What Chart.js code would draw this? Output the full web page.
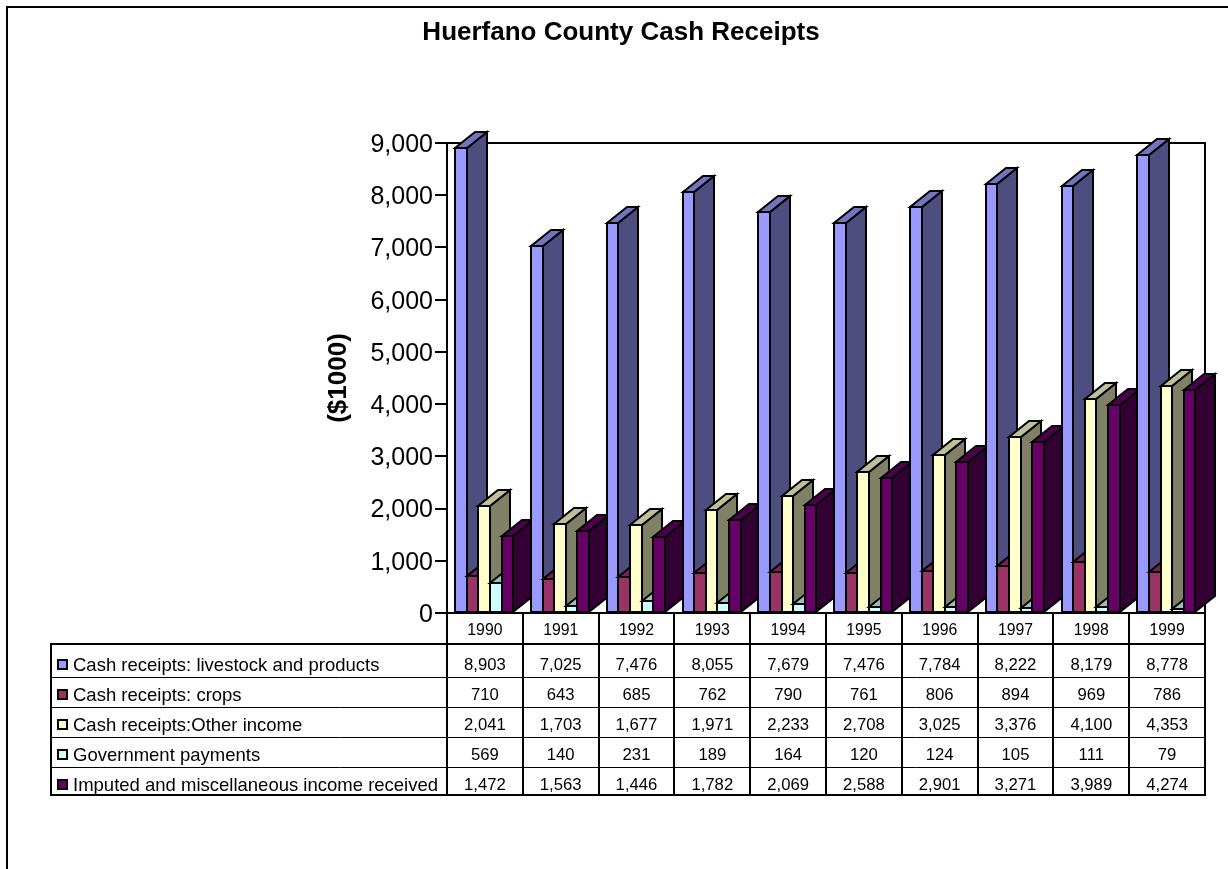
<!DOCTYPE html>
<html>
<head>
<meta charset="utf-8">
<title>Huerfano County Cash Receipts</title>
<script src="https://cdn.jsdelivr.net/npm/chart.js@4"></script>
<style>
    html, body { margin: 0; padding: 0; background: #fff; }
    #wrap { position: relative; width: 1228px; height: 869px; overflow: hidden; }
    #chart { display: block; }
</style>
</head>
<body>
<div id="wrap"><canvas id="chart" width="1228" height="869"></canvas></div>
<script>
const years = ['1990', '1991', '1992', '1993', '1994', '1995', '1996', '1997', '1998', '1999'];

const seriesNames = [
    'Cash receipts: livestock and products',
    'Cash receipts: crops',
    'Cash receipts:Other income',
    'Government payments',
    'Imputed and miscellaneous income received'
];

const livestock = [8903, 7025, 7476, 8055, 7679, 7476, 7784, 8222, 8179, 8778];
const crops = [710, 643, 685, 762, 790, 761, 806, 894, 969, 786];
const otherIncome = [2041, 1703, 1677, 1971, 2233, 2708, 3025, 3376, 4100, 4353];
const government = [569, 140, 231, 189, 164, 120, 124, 105, 111, 79];
const imputed = [1472, 1563, 1446, 1782, 2069, 2588, 2901, 3271, 3989, 4274];

const seriesValues = [livestock, crops, otherIncome, government, imputed];

// front, top and side face colours for each series
const frontColors = ['#9999ff', '#993366', '#ffffcc', '#ccffff', '#660066'];
const topColors = ['#7373bf', '#73264d', '#bfbf99', '#99bfbf', '#4d004d'];
const sideColors = ['#4d4d80', '#4d1a33', '#808066', '#668080', '#330033'];

const FONT = '"Liberation Sans", Arial, sans-serif';
const DEPTH_X = 20;
const DEPTH_Y = 16;

function fmt(v) {
    return v.toLocaleString('en-US');
}

function poly(ctx, pts, fill) {
    ctx.beginPath();
    pts.forEach((p, i) => (i === 0 ? ctx.moveTo(p[0], p[1]) : ctx.lineTo(p[0], p[1])));
    ctx.closePath();
    ctx.fillStyle = fill;
    ctx.fill();
    ctx.stroke();
}

// Draws the bars with depth. Left to right so nearer faces cover the side of the previous bar.
const bars3d = {
    id: 'bars3d',
    beforeDatasetsDraw(chart) {
        const { ctx, chartArea } = chart;
        ctx.save();
        ctx.strokeStyle = '#000';
        ctx.lineWidth = 2;
        ctx.lineJoin = 'miter';

        ctx.beginPath();
        ctx.moveTo(chartArea.left, chartArea.top);
        ctx.lineTo(chartArea.right, chartArea.top);
        ctx.lineTo(chartArea.right, chartArea.bottom);
        ctx.stroke();

        const bars = [];
        chart.data.datasets.forEach((ds, d) => {
            chart.getDatasetMeta(d).data.forEach(el => {
                bars.push({ el, d });
            });
        });
        bars.sort((a, b) => a.el.x - b.el.x);

        // snapped to whole pixels so the outlines stay crisp
        bars.forEach(({ el, d }) => {
            const l = Math.round(el.x - el.width / 2 - 0.75);
            const r = Math.round(el.x + el.width / 2 - 0.75);
            const t = Math.round(el.y);
            const b = Math.round(el.base);
            poly(ctx, [[r, t], [r + DEPTH_X, t - DEPTH_Y], [r + DEPTH_X, b - DEPTH_Y], [r, b]], sideColors[d]);
            poly(ctx, [[l, t], [l + DEPTH_X, t - DEPTH_Y], [r + DEPTH_X, t - DEPTH_Y], [r, t]], topColors[d]);
            poly(ctx, [[l, t], [r, t], [r, b], [l, b]], frontColors[d]);
        });
        ctx.restore();
        return false;
    }
};

// Data table under the plot, its columns follow the x scale
const dataTable = {
    id: 'dataTable',
    afterDraw(chart) {
        const { ctx } = chart;
        const x = chart.scales.x;
        const colW = (x.right - x.left) / years.length;
        const tableLeft = 51;
        const rowTop = 644;
        const tableBottom = 795;
        const rowLines = [677, 707, 737, 767];
        const rowCenters = [665, 695, 725, 755, 785];

        ctx.save();
        ctx.strokeStyle = '#000';
        ctx.lineWidth = 2;
        ctx.beginPath();
        ctx.moveTo(x.left, x.top);
        ctx.lineTo(x.left, tableBottom);
        years.forEach((y, i) => {
            const lx = Math.round(x.left + colW * (i + 1));
            ctx.moveTo(lx, x.top);
            ctx.lineTo(lx, tableBottom);
        });
        ctx.moveTo(tableLeft, rowTop);
        ctx.lineTo(x.right, rowTop);
        ctx.moveTo(tableLeft, rowTop - 1);
        ctx.lineTo(tableLeft, tableBottom + 1);
        ctx.moveTo(tableLeft, tableBottom);
        ctx.lineTo(x.right + 1, tableBottom);
        ctx.stroke();

        ctx.lineWidth = 1;
        ctx.beginPath();
        rowLines.forEach(y => {
            ctx.moveTo(tableLeft, y + 0.5);
            ctx.lineTo(x.right, y + 0.5);
        });
        ctx.stroke();

        ctx.fillStyle = '#000';
        ctx.textBaseline = 'middle';
        seriesNames.forEach((name, s) => {
            const cy = rowCenters[s];
            ctx.lineWidth = 2;
            ctx.fillStyle = frontColors[s];
            ctx.fillRect(58, cy - 5, 9, 9);
            ctx.strokeRect(58, cy - 5, 9, 9);

            ctx.fillStyle = '#000';
            ctx.textAlign = 'left';
            ctx.font = `18.5px ${FONT}`;
            ctx.fillText(name, 73, cy + 1);

            ctx.textAlign = 'center';
            ctx.font = `16.7px ${FONT}`;
            seriesValues[s].forEach((v, i) => {
                ctx.fillText(fmt(v), x.getPixelForValue(i), cy);
            });
        });
        ctx.restore();
    }
};

// Outer frame, open on the right and at the bottom
const frame = {
    id: 'frame',
    beforeDraw(chart) {
        const { ctx } = chart;
        ctx.save();
        ctx.strokeStyle = '#000';
        ctx.lineWidth = 2;
        ctx.beginPath();
        ctx.moveTo(7, 869);
        ctx.lineTo(7, 7);
        ctx.lineTo(1228, 7);
        ctx.stroke();
        ctx.restore();
    }
};

const datasets = seriesNames.map((name, i) => ({
    label: name,
    data: seriesValues[i],
    backgroundColor: frontColors[i],
    borderColor: '#000',
    borderWidth: 2,
    categoryPercentage: 0.765,
    barPercentage: 1
}));

new Chart(document.getElementById('chart').getContext('2d'), {
    type: 'bar',
    data: { labels: years, datasets },
    plugins: [frame, bars3d, dataTable],
    options: {
        responsive: false,
        animation: false,
        layout: { padding: { left: 37, right: 23, top: 0, bottom: 0 } },
        plugins: {
            legend: { display: false },
            tooltip: { enabled: false },
            title: {
                display: true,
                text: 'Huerfano County Cash Receipts',
                color: '#000',
                font: { family: FONT, size: 26, weight: 'bold', lineHeight: 1.2 },
                padding: { top: 17, bottom: 94.8 }
            }
        },
        scales: {
            x: {
                afterFit(scale) { scale.height = 256; },
                border: { color: '#000', width: 2 },
                grid: { display: false, drawTicks: false },
                ticks: {
                    color: '#000',
                    padding: 8,
                    maxRotation: 0,
                    font: { family: FONT, size: 15.8 }
                }
            },
            y: {
                min: 0,
                max: 9000,
                afterFit(scale) { scale.width = 410; },
                border: { color: '#000', width: 2 },
                grid: { drawOnChartArea: false, color: '#000', lineWidth: 2, tickLength: 12 },
                title: {
                    display: true,
                    text: '($1000)',
                    color: '#000',
                    font: { family: FONT, size: 26, weight: 'bold', lineHeight: 1.2 },
                    padding: { top: 286, bottom: 0 }
                },
                ticks: {
                    stepSize: 1000,
                    color: '#000',
                    padding: 2,
                    labelOffset: 2,
                    font: { family: FONT, size: 25 },
                    callback: v => fmt(v)
                }
            }
        }
    }
});
</script>
</body>
</html>
